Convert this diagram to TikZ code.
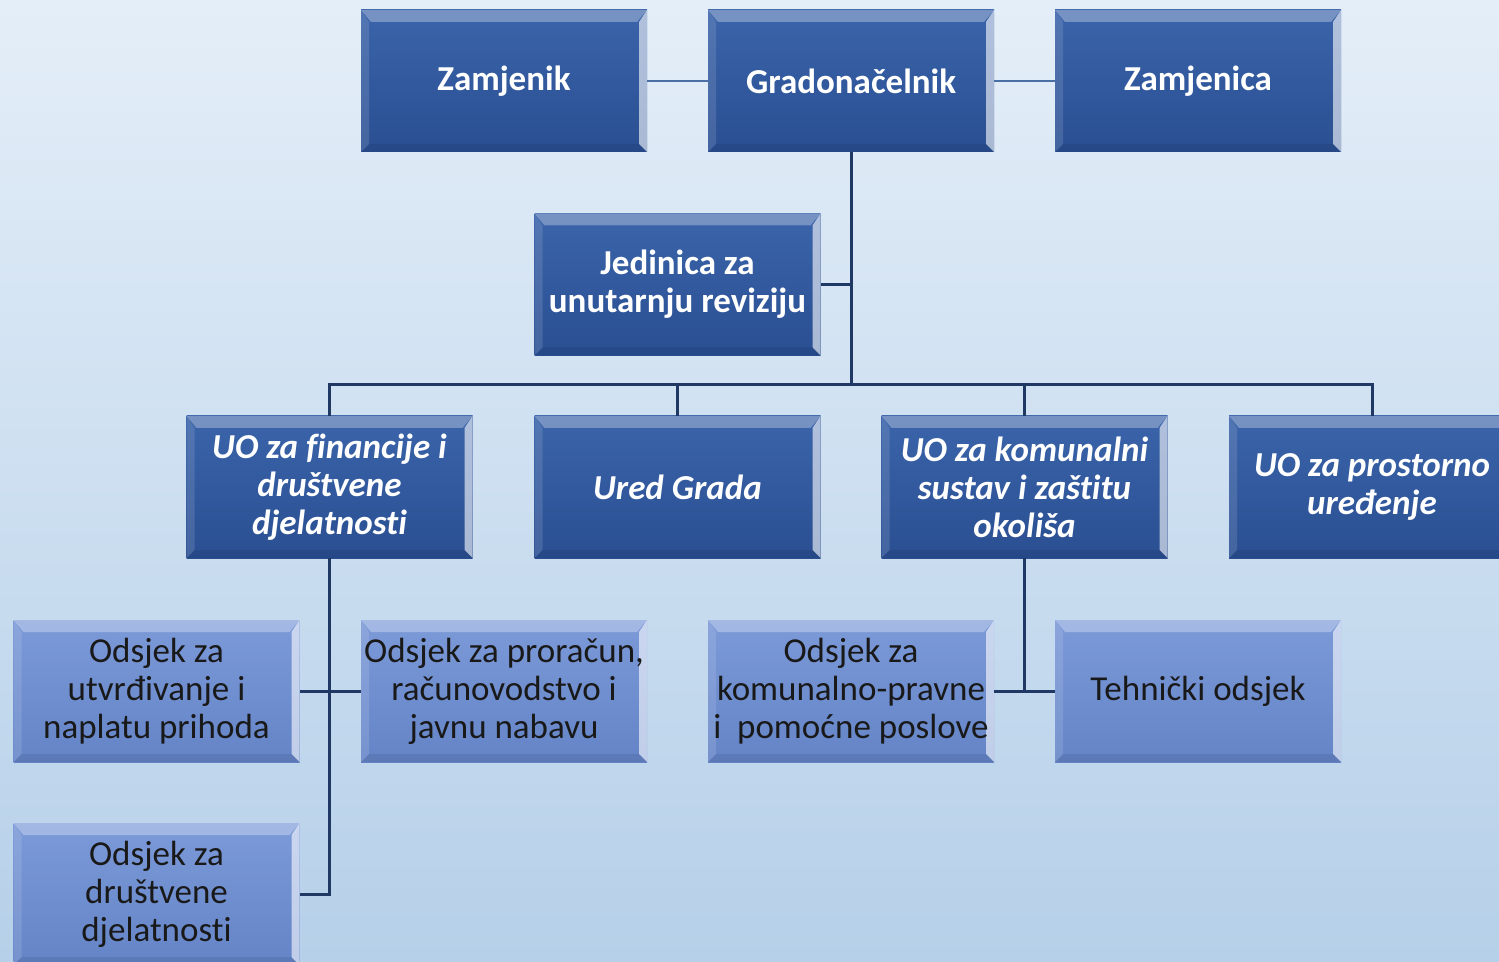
\documentclass[tikz,border=0pt]{standalone}
\usepackage{fontspec}
\setmainfont[Ligatures={NoCommon}]{Carlito}
\usetikzlibrary{calc}
\definecolor{bgtop}{HTML}{E4EEF8}
\definecolor{bgbot}{HTML}{B6D0E9}
\definecolor{darktop}{HTML}{3B64AA}
\definecolor{darkbot}{HTML}{2A4F92}
\definecolor{lighttop}{HTML}{7C9AD8}
\definecolor{lightbot}{HTML}{6484C7}
\definecolor{conn}{HTML}{1F3864}
\definecolor{thinconn}{HTML}{4A6FA5}
\tikzset{
  bevel/.style={path picture={
    \fill[white,opacity=0.3] (path picture bounding box.north west) -- (path picture bounding box.north east)
      -- ([xshift=-5pt,yshift=-6pt]path picture bounding box.north east) -- ([xshift=5pt,yshift=-6pt]path picture bounding box.north west) -- cycle;
    \fill[white,opacity=0.6] (path picture bounding box.north east) -- (path picture bounding box.south east)
      -- ([xshift=-4pt,yshift=4pt]path picture bounding box.south east) -- ([xshift=-4pt,yshift=-6pt]path picture bounding box.north east) -- cycle;
    \fill[white,opacity=0.12] (path picture bounding box.north west) -- (path picture bounding box.south west)
      -- ([xshift=4pt,yshift=4pt]path picture bounding box.south west) -- ([xshift=4pt,yshift=-6pt]path picture bounding box.north west) -- cycle;
    \fill[black,opacity=0.08] (path picture bounding box.south west) -- (path picture bounding box.south east)
      -- ([xshift=-4pt,yshift=4pt]path picture bounding box.south east) -- ([xshift=4pt,yshift=4pt]path picture bounding box.south west) -- cycle;
  }},
  box/.style={bevel, minimum width=143pt, minimum height=71pt, inner sep=0pt, align=center,
    font=\fontsize{17.5}{19}\selectfont},
  darkbox/.style={box, top color=darktop, bottom color=darkbot, text=white, font=\fontsize{17.5}{19}\selectfont\bfseries},
  uobox/.style={darkbox, font=\fontsize{17.5}{19}\selectfont\bfseries\itshape},
  lightbox/.style={box, top color=lighttop, bottom color=lightbot, text=black!90},
  link/.style={draw=conn, line width=1.5pt},
  thinlink/.style={draw=thinconn, line width=0.6pt}
}
\begin{document}
\begin{tikzpicture}[x=0.5pt,y=-0.5pt]
\path[top color=bgtop, bottom color=bgbot] (0,0) rectangle (1499,962);
\useasboundingbox (0,0) rectangle (1499,962);
\clip (0,0) rectangle (1499,962);
% level 0
\node[darkbox] (zamjenik) at (504,81) {Zamjenik};
\node[darkbox] (grad) at (851,81) {Gradonačelnik};
\node[darkbox] (zamjenica) at (1198,81) {Zamjenica};
% audit
\node[darkbox] (jed) at (677.5,284.5) {Jedinica za\\unutarnju\ reviziju};
% level 1
\node[uobox] (fin) at (329.5,487) {UO za financije i\\društvene\\djelatnosti};
\node[uobox] (ured) at (677.5,487) {Ured Grada};
\node[uobox] (kom) at (1024.5,487) {UO za komunalni\\sustav i zaštitu\\okoliša};
\node[uobox] (pros) at (1372,487) {UO za prostorno\\uređenje};
% level 2
\node[lightbox] (utv) at (156.5,691) {Odsjek za\\utvrđivanje i\\naplatu prihoda};
\node[lightbox] (pror) at (504,691) {Odsjek za proračun,\\računovodstvo i\\javnu nabavu};
\node[lightbox] (komp) at (851,691) {Odsjek za\\komunalno-pravne\\i\ \ pomoćne poslove};
\node[lightbox] (teh) at (1198,691) {Tehnički odsjek};
\node[lightbox] (drus) at (156.5,894) {Odsjek za\\društvene\\djelatnosti};
% connectors
\coordinate (bus) at (851,385);
\draw[thinlink] (zamjenik.east) -- (grad.west);
\draw[thinlink] (grad.east) -- (zamjenica.west);
\draw[link] (grad.south) -- (bus);
\draw[link] (jed.east) -- (jed.east -| grad.south);
\draw[link] (bus) -| (fin.north);
\draw[link] (bus) -| (ured.north);
\draw[link] (bus) -| (kom.north);
\draw[link] (bus) -| (pros.north);
\draw[link] (fin.south) |- (drus.east);
\draw[link] (utv.east) -- (pror.west);
\draw[link] (kom.south) -- (kom.south |- komp.east);
\draw[link] (komp.east) -- (teh.west);
\end{tikzpicture}
\end{document}
